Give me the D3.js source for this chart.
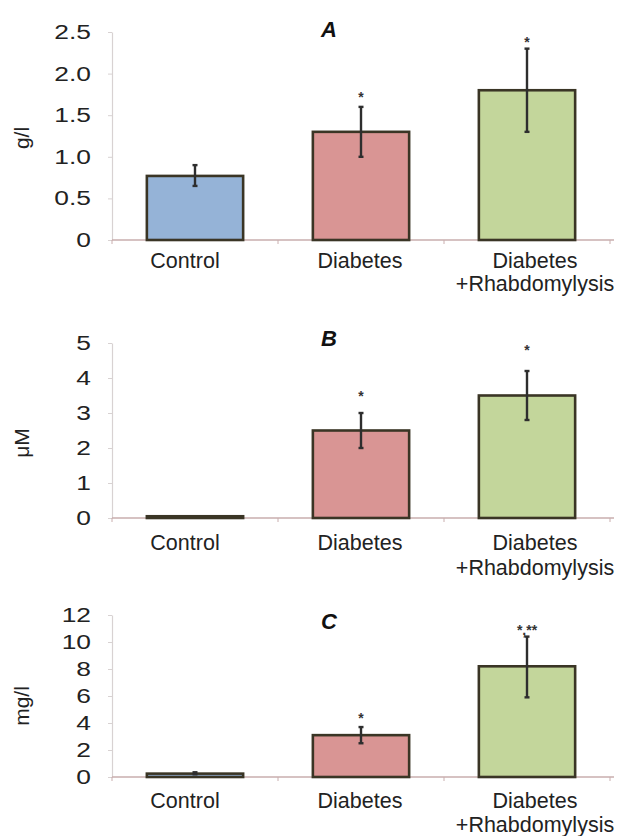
<!DOCTYPE html>
<html><head><meta charset="utf-8">
<script src="https://cdn.jsdelivr.net/npm/d3@7"></script>
<style>body{margin:0;background:#fff}svg{display:block}text{font-family:"Liberation Sans",Arial,sans-serif}</style>
</head><body><div id="chart"></div>
<script>
const categories = ["Control", "Diabetes", "Diabetes|+Rhabdomylysis"];
const colors = ["#95b3d7", "#d99594", "#c3d69b"];

const panelTitles = ["A", "B", "C"];
const unitLabels = ["g/l", "\u03bcM", "mg/l"];

const meanA = [0.77, 1.3, 1.8];
const lowA = [0.65, 1.0, 1.3];
const highA = [0.90, 1.6, 2.3];
const starA = ["", "*", "*"];
const starPosA = [0, 1.75, 2.42];
const ticksA = [0, 0.5, 1.0, 1.5, 2.0, 2.5];
const tickLabelsA = ["0", "0.5", "1.0", "1.5", "2.0", "2.5"];

const meanB = [0.05, 2.5, 3.5];
const lowB = [0.05, 2.0, 2.8];
const highB = [0.05, 3.0, 4.2];
const starB = ["", "*", "*"];
const starPosB = [0, 3.57, 4.9];
const ticksB = [0, 1, 2, 3, 4, 5];
const tickLabelsB = ["0", "1", "2", "3", "4", "5"];

const meanC = [0.25, 3.1, 8.2];
const lowC = [0.2, 2.5, 5.9];
const highC = [0.35, 3.7, 10.4];
const starC = ["", "*", "*,**"];
const starPosC = [0, 4.6, 11.1];
const ticksC = [0, 2, 4, 6, 8, 10, 12];
const tickLabelsC = ["0", "2", "4", "6", "8", "10", "12"];

const W = 617, H = 836;
const svg = d3.select("#chart").append("svg").attr("width", W).attr("height", H);

const panels = [
  {title: panelTitles[0], unit: unitLabels[0], mean: meanA, low: lowA, high: highA, star: starA, starPos: starPosA, ticks: ticksA, tickLabels: tickLabelsA,
   y0: 240, y1: 32, lab1: 268, lab2: 291, titleY: 37, unitY: 138},
  {title: panelTitles[1], unit: unitLabels[1], mean: meanB, low: lowB, high: highB, star: starB, starPos: starPosB, ticks: ticksB, tickLabels: tickLabelsB,
   y0: 518, y1: 343, lab1: 550, lab2: 575, titleY: 346, unitY: 443},
  {title: panelTitles[2], unit: unitLabels[2], mean: meanC, low: lowC, high: highC, star: starC, starPos: starPosC, ticks: ticksC, tickLabels: tickLabelsC,
   y0: 777, y1: 615, lab1: 808, lab2: 832, titleY: 629, unitY: 706}
];

const axisX0 = 112, axisX1 = 614;
const x = d3.scaleBand().domain(categories).range([axisX0, axisX1 - 4]).paddingInner(0.42).paddingOuter(0.21);
const xLabel = d3.scalePoint().domain(categories).range([185, 535]);

panels.forEach(p => {
  const g = svg.append("g");
  const maxT = p.ticks[p.ticks.length - 1];
  const y = d3.scaleLinear().domain([0, maxT]).range([p.y0, p.y1]);

  // y axis (line + small ticks)
  const yAxis = d3.axisLeft(y).tickValues(p.ticks).tickFormat("").tickSize(4).tickSizeOuter(0);
  const ya = g.append("g").attr("transform", `translate(${axisX0},0)`).call(yAxis);
  ya.select(".domain").attr("stroke", "#d8d2d2").attr("stroke-width", 1.2);
  ya.selectAll(".tick line").attr("stroke", "#d8d2d2");
  // tick labels (horizontally widened like the reference)
  p.ticks.forEach((t, i) => {
    g.append("text")
      .attr("transform", `translate(${axisX0 - 21},${y(t) + 7}) scale(1.32,1)`)
      .attr("text-anchor", "end").attr("font-size", 20).attr("fill", "#222")
      .text(p.tickLabels[i]);
  });

  // x axis
  const xa = g.append("g").attr("transform", `translate(0,${p.y0})`);
  xa.append("line").attr("x1", axisX0).attr("x2", axisX1).attr("y1", 0).attr("y2", 0)
    .attr("stroke", "#c9aeae").attr("stroke-width", 1.5);
  const bounds = [axisX0].concat(categories.map(c => x(c) + x.bandwidth() + x.step() * 0.21));
  bounds.forEach(b => {
    xa.append("line").attr("x1", b).attr("x2", b).attr("y1", 0).attr("y2", 4).attr("stroke", "#c9aeae").attr("stroke-width", 1);
  });
  // category labels
  categories.forEach(c => {
    const lines = c.split("|");
    const cx = xLabel(c);
    lines.forEach((ln, k) => {
      g.append("text").attr("x", cx).attr("y", k === 0 ? p.lab1 : p.lab2)
        .attr("text-anchor", "middle").attr("font-size", 21.5).attr("fill", "#222").text(ln);
    });
  });

  // bars
  g.selectAll("rect.bar").data(categories).enter().append("rect")
    .attr("x", c => x(c)).attr("width", x.bandwidth())
    .attr("y", (c, i) => y(p.mean[i])).attr("height", (c, i) => y(0) - y(p.mean[i]))
    .attr("fill", (c, i) => colors[i]).attr("stroke", "#3a3525").attr("stroke-width", 2.6);

  // error bars
  categories.forEach((c, i) => {
    const cx = x(c) + x.bandwidth() / 2;
    if (p.high[i] - p.low[i] > 0.001) {
      g.append("line").attr("x1", cx).attr("x2", cx).attr("y1", y(p.low[i])).attr("y2", y(p.high[i]))
        .attr("stroke", "#2e2e2e").attr("stroke-width", 2.4);
      [p.low[i], p.high[i]].forEach(v => {
        g.append("line").attr("x1", cx - 2.5).attr("x2", cx + 2.5).attr("y1", y(v)).attr("y2", y(v))
          .attr("stroke", "#2e2e2e").attr("stroke-width", 2.4);
      });
    }
    if (p.star[i]) {
      g.append("text").attr("x", cx).attr("y", y(p.starPos[i]) + 8).attr("text-anchor", "middle")
        .attr("font-size", 14).attr("font-weight", "bold").attr("fill", "#333").text(p.star[i]);
    }
  });

  // title
  g.append("text").attr("x", 329).attr("y", p.titleY).attr("text-anchor", "middle")
    .attr("font-size", 22).attr("font-weight", "bold").attr("font-style", "italic").attr("fill", "#111").text(p.title);

  // unit label
  g.append("text").attr("transform", `translate(29,${p.unitY}) rotate(-90)`).attr("text-anchor", "middle")
    .attr("font-size", 21).attr("fill", "#222").text(p.unit);
});
</script></body></html>
